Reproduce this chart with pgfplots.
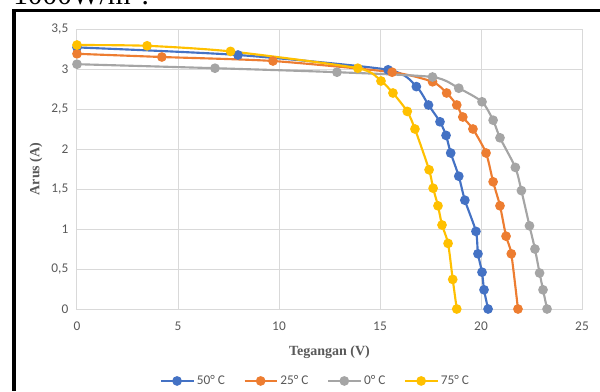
\documentclass[border=0pt]{standalone}
\usepackage{fontspec}
\setmainfont{Carlito}
\newfontfamily\serifb{Liberation Serif}
\usepackage{pgfplots}
\pgfplotsset{compat=1.18}
\definecolor{cblue}{HTML}{4472C4}
\definecolor{corange}{HTML}{ED7D31}
\definecolor{cgray}{HTML}{A5A5A5}
\definecolor{cyellow}{HTML}{FFC000}
\definecolor{gridc}{HTML}{D9D9D9}
\definecolor{txt}{HTML}{595959}
\begin{document}
\begin{tikzpicture}
\begin{scope}[x=0.75pt,y=0.75pt]
\useasboundingbox (0,0) rectangle (600,391);
\begin{scope}
\clip (0,0) rectangle (600,391);
\node[anchor=base west, inner sep=0, font=\serifb\fontsize{22}{24}\selectfont] at (13,386) {1000W/m\textsuperscript{2}.};
\end{scope}
\fill[black] (12,0) rectangle (16,382);
\fill[black] (12,379) rectangle (600,382);
\end{scope}
\begin{axis}[
  at={(57.75pt,61.5pt)}, anchor=south west,
  scale only axis, width=378.75pt, height=210pt,
  xmin=0, xmax=25, ymin=0, ymax=3.5,
  xtick={0,5,10,15,20,25}, ytick={0,0.5,1,1.5,2,2.5,3,3.5},
  grid=major, major grid style={draw=gridc, line width=0.75pt},
  axis line style={draw=gridc, line width=0.75pt},
  major tick length=0pt,
  tick label style={font=\fontsize{10}{11}\selectfont, text=txt},
  yticklabel style={xshift=-3pt},
  xticklabel style={yshift=-6pt},
  /pgf/number format/use comma,
  /pgf/number format/assume math mode=true,
  xlabel={\serifb\bfseries Tegangan (V)},
  ylabel={\serifb\bfseries Arus (A)},
  label style={font=\fontsize{10.5}{12}\selectfont, text=txt},
  xlabel style={yshift=-5pt},
  ylabel style={yshift=0pt},
  legend columns=4,
  legend style={at={(0.473,-0.257)}, anchor=center, draw=none, fill=none,
    font=\fontsize{10}{11}\selectfont, text=txt,
    /tikz/every even column/.append style={column sep=12pt}},
  legend image code/.code={\draw[mark repeat=2,mark phase=2] plot coordinates {(0pt,0pt)(12pt,0pt)(24pt,0pt)};},
  every axis plot/.append style={line width=1.6pt, smooth, tension=0.4, mark=*, mark size=2.8pt, mark options={solid}},
]
\addplot[color=cblue] coordinates {(0,3.27)(7.97,3.175)(15.4,2.99)(16.8,2.78)(17.4,2.55)(17.97,2.34)(18.27,2.17)(18.5,1.95)(18.9,1.66)(19.2,1.36)(19.75,0.97)(19.85,0.69)(20.05,0.46)(20.15,0.24)(20.35,0)};
\addlegendentry{50° C}
\addplot[color=corange] coordinates {(0,3.19)(4.2,3.15)(9.7,3.1)(15.6,2.96)(17.6,2.84)(18.3,2.7)(18.8,2.55)(19.1,2.4)(19.6,2.25)(20.25,1.95)(20.6,1.59)(20.94,1.29)(21.24,0.91)(21.5,0.69)(21.83,0)};
\addlegendentry{25° C}
\addplot[color=cgray] coordinates {(0,3.06)(6.83,3.01)(12.87,2.96)(17.6,2.9)(18.9,2.76)(20.05,2.59)(20.6,2.36)(20.94,2.14)(21.7,1.77)(22.0,1.48)(22.4,1.04)(22.67,0.75)(22.9,0.45)(23.07,0.24)(23.27,0)};
\addlegendentry{0° C}
\addplot[color=cyellow] coordinates {(0,3.3)(3.47,3.29)(7.6,3.22)(13.9,3.01)(15.05,2.85)(15.64,2.7)(16.35,2.47)(16.73,2.25)(17.43,1.74)(17.63,1.51)(17.87,1.29)(18.07,1.05)(18.37,0.82)(18.6,0.37)(18.8,0)};
\addlegendentry{75° C}
\end{axis}
\end{tikzpicture}
\end{document}
